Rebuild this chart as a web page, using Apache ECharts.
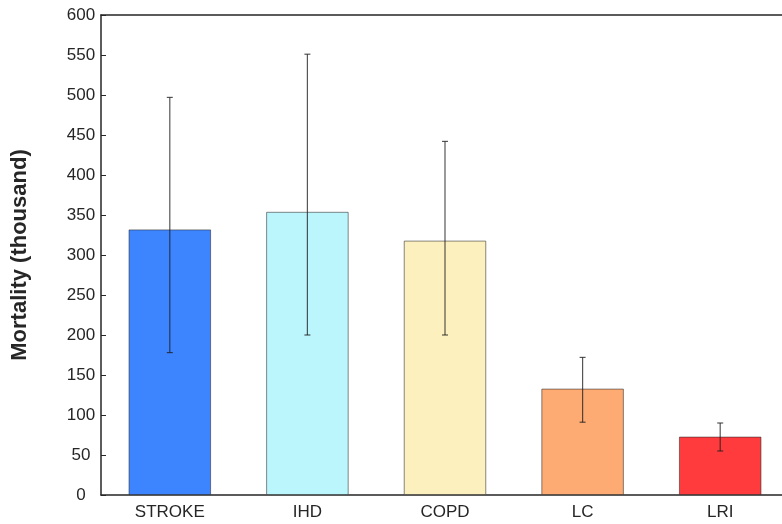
<!DOCTYPE html>
<html>
<head>
<meta charset="utf-8">
<script src="https://cdn.jsdelivr.net/npm/echarts@6/dist/echarts.min.js"></script>
<style>
  html, body { margin: 0; padding: 0; background: #fff; }
  #chart { width: 782px; height: 524px; }
</style>
</head>
<body>
<div id="chart"></div>
<script>
// data
var categories = ['STROKE', 'IHD', 'COPD', 'LC', 'LRI'];
var mortality = [332, 354, 318, 133, 73];
var errLow = [178, 200, 200, 91, 55];
var errHigh = [497, 551, 442, 172, 90];
var barColors = ['#3d85ff', '#bcf6fd', '#fdf0bf', '#fdab73', '#ff3b3d'];

var chart = echarts.init(document.getElementById('chart'));

var errData = categories.map(function (c, i) {
  return [i, errLow[i], errHigh[i]];
});

var axisColor = '#262626';
var font = 'Liberation Sans, Arial';

chart.setOption({
  animation: false,
  grid: { left: 101, top: 15, right: -7, bottom: 29, containLabel: false, outerBoundsMode: 'none' },
  xAxis: [{
    type: 'category',
    data: categories,
    axisLine: { lineStyle: { color: axisColor, width: 1.5 } },
    axisTick: { inside: true, alignWithLabel: true, length: 5, lineStyle: { color: axisColor } },
    axisLabel: { color: axisColor, fontSize: 17, fontFamily: font, margin: 9 },
    splitLine: { show: false }
  }, {
    type: 'category',
    data: categories,
    position: 'top',
    axisLine: { lineStyle: { color: axisColor, width: 1.5 } },
    axisTick: { inside: true, alignWithLabel: true, length: 5, lineStyle: { color: axisColor } },
    axisLabel: { show: false }
  }],
  yAxis: {
    type: 'value',
    min: 0,
    max: 600,
    interval: 50,
    name: 'Mortality (thousand)',
    nameLocation: 'middle',
    nameGap: 70,
    nameTextStyle: { color: axisColor, fontSize: 22, fontWeight: 'bold', fontFamily: font },
    axisLine: { show: true, lineStyle: { color: axisColor, width: 1.5 } },
    axisTick: { show: true, inside: true, length: 5, lineStyle: { color: axisColor } },
    axisLabel: { color: axisColor, fontSize: 17, fontFamily: font, margin: 20, align: 'center' },
    splitLine: { show: false }
  },
  series: [{
    type: 'bar',
    data: mortality.map(function (v, i) {
      return { value: v, itemStyle: { color: barColors[i] } };
    }),
    barWidth: '60%',
    itemStyle: { borderColor: 'rgba(40,40,40,0.55)', borderWidth: 1 }
  }, {
    type: 'custom',
    data: errData,
    z: 10,
    renderItem: function (params, api) {
      var x = api.value(0);
      var lo = api.coord([x, api.value(1)]);
      var hi = api.coord([x, api.value(2)]);
      var half = 3;
      var style = { stroke: 'rgba(30,30,30,0.75)', lineWidth: 1.2 };
      return {
        type: 'group',
        children: [
          { type: 'line', shape: { x1: lo[0], y1: lo[1], x2: hi[0], y2: hi[1] }, style: style },
          { type: 'line', shape: { x1: lo[0] - half, y1: lo[1], x2: lo[0] + half, y2: lo[1] }, style: style },
          { type: 'line', shape: { x1: hi[0] - half, y1: hi[1], x2: hi[0] + half, y2: hi[1] }, style: style }
        ]
      };
    }
  }]
});
</script>
</body>
</html>
